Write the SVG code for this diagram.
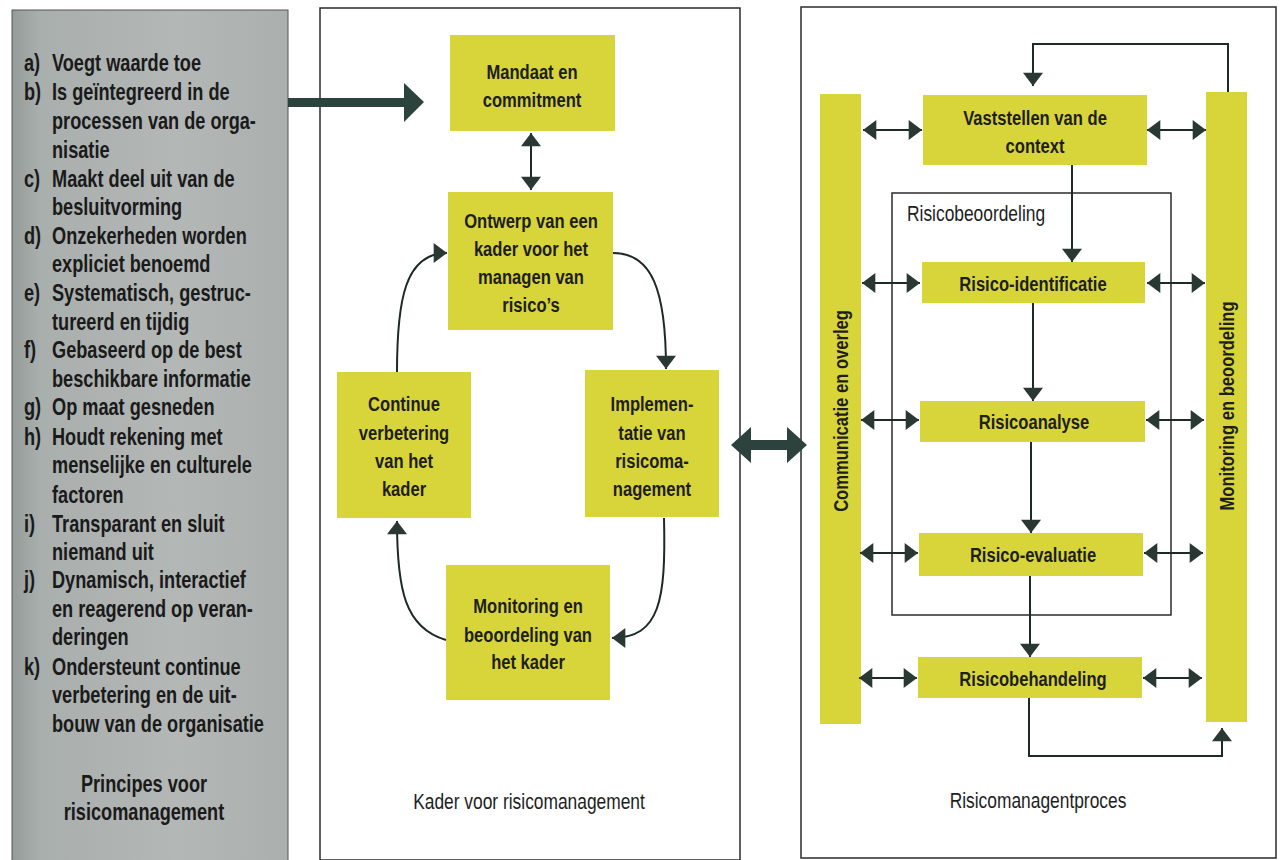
<svg xmlns="http://www.w3.org/2000/svg" width="1282" height="860" viewBox="0 0 1282 860">
<defs>
<linearGradient id="gray" x1="0" y1="0" x2="1" y2="0">
<stop offset="0" stop-color="#949b99"/>
<stop offset="0.1" stop-color="#a9afad"/>
<stop offset="0.6" stop-color="#b3b7b6"/>
<stop offset="1" stop-color="#abb0af"/>
</linearGradient>
<marker id="ah" markerUnits="userSpaceOnUse" markerWidth="14" markerHeight="20" viewBox="0 0 12 18" refX="12" refY="9" orient="auto-start-reverse">
<path d="M0,0 L12,9 L0,18 z" fill="#2a3833"/>
</marker>
<style>
.panel{fill:#fff;stroke:#2b2b2b;stroke-width:1.5}
.box{fill:#d8d53a}
.t{font-family:"Liberation Sans",Arial,sans-serif;font-weight:bold;font-size:21px;fill:#1e1e1e;text-anchor:middle}
.lt{font-family:"Liberation Sans",Arial,sans-serif;font-weight:bold;font-size:23px;fill:#1a1a1a}
.rg{font-family:"Liberation Sans",Arial,sans-serif;font-weight:normal;font-size:22px;fill:#1e1e1e}
.c{fill:none;stroke:#1e2a26;stroke-width:2}
.arr{marker-end:url(#ah)}
.dbl{marker-start:url(#ah);marker-end:url(#ah)}
.big{fill:#2c433d}
</style>
</defs>
<rect width="1282" height="860" fill="#fff"/>

<g id="principles">
<rect x="12" y="10" width="276" height="852" fill="url(#gray)" stroke="#555" stroke-width="1"/>
<g class="lt" transform="translate(24,0) scale(0.79,1)">
<text x="0" y="71">a)</text>
<text x="0" y="100">b)</text>
<text x="0" y="187">c)</text>
<text x="0" y="244">d)</text>
<text x="0" y="301">e)</text>
<text x="0" y="358">f)</text>
<text x="0" y="415">g)</text>
<text x="0" y="445">h)</text>
<text x="0" y="532">i)</text>
<text x="0" y="588">j)</text>
<text x="0" y="675">k)</text>
</g>
<g class="lt" transform="translate(52,0) scale(0.79,1)">
<text x="0" y="71">Voegt waarde toe</text>
<text x="0" y="100">Is geïntegreerd in de</text>
<text x="0" y="129">processen van de orga-</text>
<text x="0" y="158">nisatie</text>
<text x="0" y="187">Maakt deel uit van de</text>
<text x="0" y="215">besluitvorming</text>
<text x="0" y="244">Onzekerheden worden</text>
<text x="0" y="272">expliciet benoemd</text>
<text x="0" y="301">Systematisch, gestruc-</text>
<text x="0" y="330">tureerd en tijdig</text>
<text x="0" y="358">Gebaseerd op de best</text>
<text x="0" y="387">beschikbare informatie</text>
<text x="0" y="415">Op maat gesneden</text>
<text x="0" y="445">Houdt rekening met</text>
<text x="0" y="473">menselijke en culturele</text>
<text x="0" y="503">factoren</text>
<text x="0" y="532">Transparant en sluit</text>
<text x="0" y="560">niemand uit</text>
<text x="0" y="588">Dynamisch, interactief</text>
<text x="0" y="617">en reagerend op veran-</text>
<text x="0" y="645">deringen</text>
<text x="0" y="675">Ondersteunt continue</text>
<text x="0" y="703">verbetering en de uit-</text>
<text x="0" y="732">bouw van de organisatie</text>
</g>
<g class="lt" transform="translate(144,0) scale(0.79,1)" text-anchor="middle">
<text x="0" y="792">Principes voor</text>
<text x="0" y="820">risicomanagement</text>
</g>
</g>

<g id="panel-kader">
<rect class="panel" x="320" y="8" width="420" height="852"/>
<text class="rg" transform="translate(529,809) scale(0.79,1)" text-anchor="middle">Kader voor risicomanagement</text>
</g>

<g id="panel-proces">
<rect class="panel" x="801" y="7" width="475" height="851"/>
<text class="rg" transform="translate(1038,808) scale(0.79,1)" text-anchor="middle">Risicomanagentproces</text>
</g>

<g id="risicobeoordeling">
<rect x="892" y="193" width="279" height="422" fill="none" stroke="#2b2b2b" stroke-width="1.5"/>
<text class="rg" transform="translate(907,221) scale(0.79,1)">Risicobeoordeling</text>
</g>

<g id="mandaat">
<rect class="box" x="450" y="35" width="165" height="96"/>
<text class="t" transform="translate(532,79) scale(0.79,1)">Mandaat en</text>
<text class="t" transform="translate(532,107) scale(0.79,1)">commitment</text>
</g>
<g id="ontwerp">
<rect class="box" x="448" y="192" width="165" height="138"/>
<text class="t" transform="translate(531,228) scale(0.79,1)">Ontwerp van een</text>
<text class="t" transform="translate(531,256) scale(0.79,1)">kader voor het</text>
<text class="t" transform="translate(531,284) scale(0.79,1)">managen van</text>
<text class="t" transform="translate(531,312) scale(0.79,1)">risico’s</text>
</g>
<g id="continue">
<rect class="box" x="337" y="372" width="134" height="146"/>
<text class="t" transform="translate(404,411) scale(0.79,1)">Continue</text>
<text class="t" transform="translate(404,440) scale(0.79,1)">verbetering</text>
<text class="t" transform="translate(404,468) scale(0.79,1)">van het</text>
<text class="t" transform="translate(404,496) scale(0.79,1)">kader</text>
</g>
<g id="implementatie">
<rect class="box" x="585" y="370" width="134" height="147"/>
<text class="t" transform="translate(652,411) scale(0.79,1)">Implemen-</text>
<text class="t" transform="translate(652,440) scale(0.79,1)">tatie van</text>
<text class="t" transform="translate(652,468) scale(0.79,1)">risicoma-</text>
<text class="t" transform="translate(652,496) scale(0.79,1)">nagement</text>
</g>
<g id="monitoring-kader">
<rect class="box" x="446" y="565" width="164" height="135"/>
<text class="t" transform="translate(528,613) scale(0.79,1)">Monitoring en</text>
<text class="t" transform="translate(528,642) scale(0.79,1)">beoordeling van</text>
<text class="t" transform="translate(528,669) scale(0.79,1)">het kader</text>
</g>

<g id="communicatie">
<rect class="box" x="820" y="94" width="41" height="630"/>
<text class="t" transform="translate(848,411) rotate(-90) scale(0.79,1)">Communicatie en overleg</text>
</g>
<g id="monitoring-proces">
<rect class="box" x="1206" y="92" width="41" height="630"/>
<text class="t" transform="translate(1234,406) rotate(-90) scale(0.79,1)">Monitoring en beoordeling</text>
</g>
<g id="context">
<rect class="box" x="923" y="95" width="224" height="70"/>
<text class="t" transform="translate(1035,125) scale(0.79,1)">Vaststellen van de</text>
<text class="t" transform="translate(1035,153) scale(0.79,1)">context</text>
</g>
<g id="identificatie">
<rect class="box" x="922" y="262" width="223" height="41"/>
<text class="t" transform="translate(1033,291) scale(0.79,1)">Risico-identificatie</text>
</g>
<g id="analyse">
<rect class="box" x="920" y="401" width="225" height="41"/>
<text class="t" transform="translate(1034,429) scale(0.79,1)">Risicoanalyse</text>
</g>
<g id="evaluatie">
<rect class="box" x="919" y="533" width="224" height="43"/>
<text class="t" transform="translate(1033,562) scale(0.79,1)">Risico-evaluatie</text>
</g>
<g id="behandeling">
<rect class="box" x="918" y="657" width="224" height="41"/>
<text class="t" transform="translate(1033,686) scale(0.79,1)">Risicobehandeling</text>
</g>

<g id="connectors">
<polygon class="big" points="288,98 404,98 404,83 424,102 404,122 404,107 288,107"/>
<polygon class="big" points="731,445 751,427 751,440 787,440 787,427 807,445 787,463 787,450 751,450 751,463"/>
<line class="c dbl" x1="531" y1="133" x2="531" y2="190"/>
<path class="c arr" d="M613,253 C652,253 666,290 666,369"/>
<path class="c arr" d="M664,518 C666,600 660,638 612,638"/>
<path class="c arr" d="M446,640 C405,628 397,590 397,521"/>
<path class="c arr" d="M397,372 C397,300 405,253 447,253"/>
<path class="c arr" d="M1228,92 L1228,44 L1033,44 L1033,86"/>
<line class="c arr" x1="1072" y1="165" x2="1072" y2="262"/>
<line class="c arr" x1="1033" y1="303" x2="1033" y2="401"/>
<line class="c arr" x1="1031" y1="442" x2="1031" y2="533"/>
<line class="c arr" x1="1030" y1="576" x2="1030" y2="657"/>
<path class="c arr" d="M1029,698 L1029,756 L1222,756 L1222,728"/>
<line class="c dbl" x1="863" y1="130" x2="922" y2="130"/>
<line class="c dbl" x1="1147" y1="130" x2="1206" y2="130"/>
<line class="c dbl" x1="862" y1="283" x2="920" y2="283"/>
<line class="c dbl" x1="1147" y1="283" x2="1205" y2="283"/>
<line class="c dbl" x1="861" y1="420" x2="919" y2="420"/>
<line class="c dbl" x1="1146" y1="420" x2="1204" y2="420"/>
<line class="c dbl" x1="860" y1="553" x2="918" y2="553"/>
<line class="c dbl" x1="1144" y1="553" x2="1203" y2="553"/>
<line class="c dbl" x1="859" y1="678" x2="917" y2="678"/>
<line class="c dbl" x1="1143" y1="678" x2="1202" y2="678"/>
</g>
</svg>
